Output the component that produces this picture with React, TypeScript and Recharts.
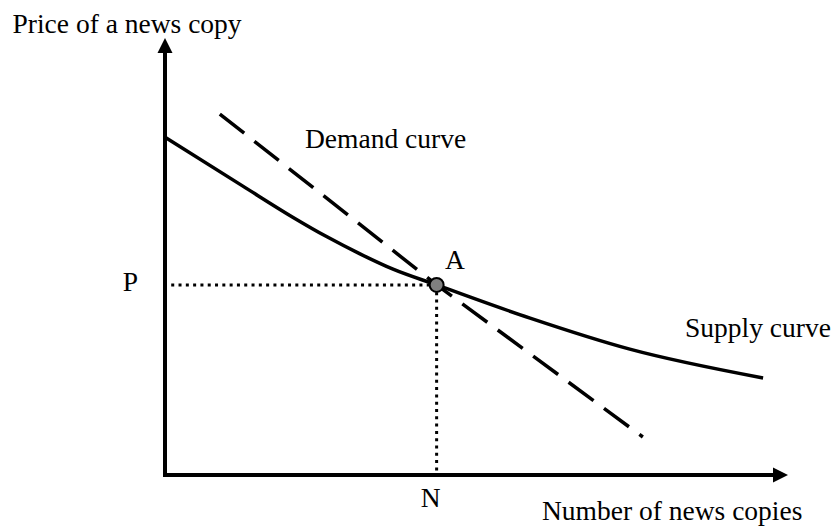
import React from 'react';
import {
  ComposedChart,
  Line,
  XAxis,
  YAxis,
  ReferenceLine,
  ReferenceDot,
} from 'recharts';

// equilibrium point A
const A_X = 43.6;
const A_Y = 43.5;

const supplyX = [0, 12.5, 20.5, 26.0, 31.3, 36.6, A_X, 58.6, 74.6, 96.0];
const supplyY = [77.3, 66.1, 59.0, 54.5, 50.6, 47.1, A_Y, 35.9, 28.8, 22.2];

const demandX = [8.8, A_X, 76.7];
const demandY = [82.6, A_Y, 8.7];

const xTickLabels = ['N'];
const yTickLabels = ['P'];

const supplyData = supplyX.map((x, i) => ({ x, y: supplyY[i] }));
const demandData = demandX.map((x, i) => ({ x, y: demandY[i] }));

const FONT = "'Liberation Serif', 'Times New Roman', serif";
const FS = 27.5;

const ArrowLine = (props: any) => {
  const { x1, y1, x2, y2 } = props;
  const dx = x2 - x1;
  const dy = y2 - y1;
  const len = Math.hypot(dx, dy) || 1;
  const ux = dx / len;
  const uy = dy / len;
  const head = 15;
  const half = 7.5;
  const bx = x2 - ux * head;
  const by = y2 - uy * head;
  return (
    <g>
      <line x1={x1} y1={y1} x2={bx} y2={by} stroke="#000" strokeWidth={4} strokeLinecap="square" />
      <polygon
        points={`${x2},${y2} ${bx - uy * half},${by + ux * half} ${bx + uy * half},${by - ux * half}`}
        fill="#000"
      />
    </g>
  );
};

const textStyle = { fontFamily: FONT, fontSize: FS, fill: '#000' };

export default function App() {
  return (
    <div style={{ position: 'absolute', left: 0, top: 0, background: '#fff', fontFamily: FONT }}>
      <ComposedChart
        width={839}
        height={532}
        margin={{ top: 38, right: 51, bottom: 0, left: 0 }}
      >
        <XAxis
          type="number"
          dataKey="x"
          domain={[0, 100]}
          ticks={[A_X]}
          interval={0}
          tickFormatter={(_v: number, i: number) => xTickLabels[i]}
          axisLine={false}
          tickLine={false}
          tickSize={0}
          tickMargin={12}
          height={57}
          tick={{ ...textStyle, dx: -6 }}
        />
        <YAxis
          type="number"
          dataKey="y"
          domain={[0, 100]}
          ticks={[A_Y]}
          interval={0}
          tickFormatter={(_v: number, i: number) => yTickLabels[i]}
          axisLine={false}
          tickLine={false}
          tickSize={0}
          tickMargin={27}
          width={165}
          tick={{ ...textStyle, dy: -4 }}
        />
        {/* dotted guides to P and N */}
        <ReferenceLine
          segment={[{ x: 1, y: A_Y }, { x: A_X, y: A_Y }]}
          stroke="#000"
          strokeWidth={3}
          strokeDasharray="3 4.3"
          ifOverflow="visible"
        />
        <ReferenceLine
          segment={[{ x: A_X, y: A_Y }, { x: A_X, y: 0 }]}
          stroke="#000"
          strokeWidth={3}
          strokeDasharray="3 4.3"
          ifOverflow="visible"
        />
        {/* axes with arrows */}
        <ReferenceLine
          segment={[{ x: 0, y: 0 }, { x: 100, y: 0 }]}
          ifOverflow="visible"
          shape={ArrowLine}
        />
        <ReferenceLine
          segment={[{ x: 0, y: 0 }, { x: 0, y: 100 }]}
          ifOverflow="visible"
          shape={ArrowLine}
        />
        <Line
          data={demandData}
          dataKey="y"
          type="linear"
          stroke="#000"
          strokeWidth={3.5}
          strokeDasharray="31 13"
          dot={false}
          activeDot={false}
          isAnimationActive={false}
        />
        <Line
          data={supplyData}
          dataKey="y"
          type="monotone"
          stroke="#000"
          strokeWidth={3.5}
          dot={false}
          activeDot={false}
          isAnimationActive={false}
        />
        <ReferenceDot
          x={A_X}
          y={A_Y}
          r={7}
          fill="#808080"
          stroke="#000"
          strokeWidth={2}
          ifOverflow="visible"
        />
        <text x={12.5} y={33} style={textStyle}>Price of a news copy</text>
        <text x={542} y={520} style={textStyle}>Number of news copies</text>
        <text x={305} y={148} style={textStyle}>Demand curve</text>
        <text x={685} y={337} style={textStyle}>Supply curve</text>
        <text x={445} y={269} style={textStyle}>A</text>
      </ComposedChart>
    </div>
  );
}
